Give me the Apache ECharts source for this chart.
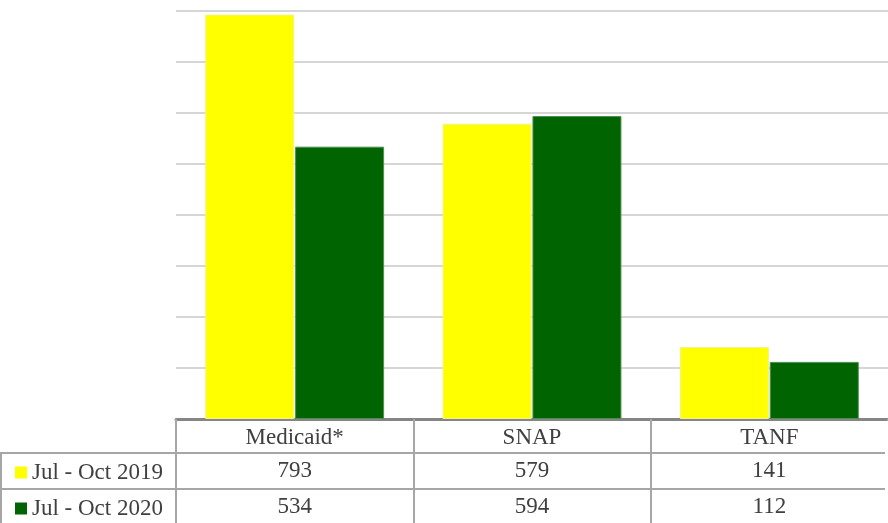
<!DOCTYPE html>
<html>
<head>
<meta charset="utf-8">
<script src="https://cdn.jsdelivr.net/npm/echarts@6/dist/echarts.min.js"></script>
<style>
  html, body { margin: 0; padding: 0; background: #fff; }
  #main { width: 888px; height: 523px; }
</style>
</head>
<body>
<div id="main"></div>
<script>
var categories = ['Medicaid*', 'SNAP', 'TANF'];
var seriesNames = ['Jul - Oct 2019', 'Jul - Oct 2020'];
var values2019 = [793, 579, 141];
var values2020 = [534, 594, 112];

var tableFont = 'Liberation Serif, Times New Roman, serif';
var fontSize = 23;
var textColor = '#404040';
var lineColor = '#a6a6a6';

// 表格行：每行是一个带偏移的类目轴
function tableAxis(labels, offset) {
	return {
		type: 'category',
		position: 'bottom',
		offset: offset,
		data: labels,
		axisLine: { show: true, lineStyle: { color: lineColor, width: 2 } },
		axisTick: { show: true, inside: false, length: 36, lineStyle: { color: lineColor, width: 2 } },
		axisLabel: {
			margin: 6,
			fontFamily: tableFont,
			fontSize: fontSize,
			color: textColor
		}
	};
}

function legendRow(name, top) {
	return {
		data: [name], left: 15, top: top, padding: 0,
		itemWidth: 12, itemHeight: 12, icon: 'rect',
		itemStyle: { borderWidth: 0 },
		textStyle: { fontFamily: tableFont, fontSize: fontSize, color: textColor }
	};
}

var chart = echarts.init(document.getElementById('main'));
var option = {
	animation: false,
	grid: { left: 176, right: 0, top: 11, bottom: 104 },
	xAxis: [
		{
			type: 'category',
			data: categories,
			axisLine: { show: true, lineStyle: { color: '#858585', width: 3 } },
			axisTick: { show: true, inside: false, length: 34, lineStyle: { color: lineColor, width: 2 } },
			axisLabel: { margin: 7, fontFamily: tableFont, fontSize: fontSize, color: textColor }
		},
		tableAxis(values2019.map(String), 34),
		tableAxis(values2020.map(String), 70)
	],
	yAxis: {
		type: 'value',
		min: 0,
		max: 800,
		interval: 100,
		axisLine: { show: false },
		axisTick: { show: false },
		axisLabel: { show: false },
		splitLine: { lineStyle: { color: '#c8c8c8', width: 1.5 } }
	},
	legend: [
		legendRow(seriesNames[0], 461),
		legendRow(seriesNames[1], 497)
	],
	series: [
		{
			name: seriesNames[0],
			type: 'bar',
			data: values2019,
			barWidth: 89,
			barGap: '1%',
			itemStyle: { color: '#ffff00', borderColor: '#f2f28a', borderWidth: 1 }
		},
		{
			name: seriesNames[1],
			type: 'bar',
			data: values2020,
			barWidth: 89,
			itemStyle: { color: '#006400', borderColor: '#4f8f4f', borderWidth: 1 }
		}
	],
	graphic: [
		// 左侧图例单元格边框
		{ type: 'line', shape: { x1: 0, y1: 453, x2: 176, y2: 453 }, style: { stroke: lineColor, lineWidth: 2 } },
		{ type: 'line', shape: { x1: 0, y1: 489, x2: 176, y2: 489 }, style: { stroke: lineColor, lineWidth: 2 } },
		{ type: 'line', shape: { x1: 1, y1: 453, x2: 1, y2: 523 }, style: { stroke: lineColor, lineWidth: 2 } },
		// 原图表格右侧没有竖线，盖掉最后一个刻度
		{ type: 'rect', z: 100, shape: { x: 885, y: 421, width: 4, height: 102 }, style: { fill: '#fff' } }
	]
};
chart.setOption(option);
</script>
</body>
</html>
